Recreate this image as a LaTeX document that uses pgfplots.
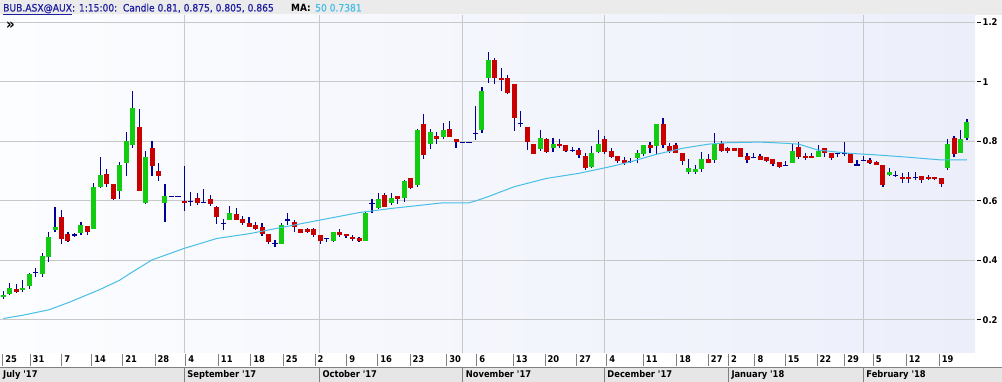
\documentclass[border=0pt]{standalone}
\usepackage{pgfplots}
\pgfplotsset{compat=1.18}
\usepackage{pgfplotstable}
\usepackage{fontspec}
\setmainfont{DejaVu Sans Condensed}
\newfontface\hdrface{DejaVu Sans Condensed}[FakeBold=0.6]

\definecolor{hdrgray}{RGB}{235,235,235}
\definecolor{hdrblue}{RGB}{30,30,160}
\definecolor{macyan}{RGB}{70,190,230}
\definecolor{gridgray}{RGB}{200,200,200}
\definecolor{cgreen}{RGB}{17,204,17}
\definecolor{cred}{RGB}{200,0,0}
\definecolor{wick}{RGB}{0,0,150}
\definecolor{bgA}{RGB}{252,253,255}
\definecolor{bgB}{RGB}{236,239,250}
\definecolor{rowgray}{RGB}{230,230,230}
\definecolor{sepgray}{RGB}{128,128,128}

\newcommand\lblfont{\bfseries\fontsize{9.3}{10}\selectfont}
\newcommand\hdrfont{\hdrface\fontsize{10.2}{12}\selectfont}

% t: 1 = up (green), -1 = down (red), 0 = doji / flat
\pgfplotstableread{
i o h l c t
0 0.275 0.296 0.270 0.283 1
1 0.285 0.322 0.283 0.305 1
2 0.304 0.319 0.291 0.293 -1
3 0.300 0.332 0.294 0.307 1
4 0.314 0.358 0.303 0.352 1
5 0.358 0.373 0.345 0.358 0
6 0.354 0.423 0.345 0.414 1
7 0.412 0.496 0.395 0.478 1
8 0.503 0.578 0.496 0.510 1
9 0.545 0.569 0.453 0.472 -1
10 0.487 0.496 0.462 0.465 -1
11 0.485 0.492 0.477 0.485 0
12 0.492 0.527 0.485 0.517 1
13 0.515 0.515 0.485 0.495 -1
14 0.506 0.658 0.506 0.645 1
15 0.645 0.746 0.642 0.686 1
16 0.689 0.705 0.647 0.657 -1
17 0.656 0.656 0.602 0.606 -1
18 0.634 0.730 0.606 0.719 1
19 0.726 0.830 0.684 0.800 1
20 0.788 0.969 0.778 0.912 1
21 0.848 0.907 0.634 0.634 -1
22 0.593 0.767 0.588 0.747 1
23 0.777 0.801 0.684 0.718 -1
24 0.700 0.726 0.667 0.684 -1
25 0.593 0.655 0.527 0.615 1
26 0.615 0.615 0.615 0.615 0
27 0.615 0.615 0.615 0.615 0
28 0.599 0.715 0.566 0.593 -1
29 0.597 0.628 0.583 0.597 0
30 0.609 0.625 0.586 0.593 -1
31 0.595 0.639 0.595 0.595 0
32 0.606 0.618 0.582 0.588 -1
33 0.579 0.583 0.522 0.544 -1
34 0.524 0.537 0.503 0.524 0
35 0.536 0.583 0.536 0.557 1
36 0.554 0.574 0.534 0.534 -1
37 0.537 0.549 0.518 0.524 -1
38 0.525 0.544 0.510 0.513 -1
39 0.517 0.528 0.503 0.506 -1
40 0.513 0.524 0.481 0.487 -1
41 0.487 0.487 0.454 0.461 -1
42 0.457 0.468 0.445 0.457 0
43 0.456 0.524 0.456 0.517 1
44 0.535 0.557 0.518 0.535 0
45 0.528 0.535 0.496 0.513 -1
46 0.504 0.504 0.493 0.493 -1
47 0.505 0.509 0.493 0.495 -1
48 0.505 0.509 0.477 0.484 -1
49 0.484 0.484 0.456 0.466 -1
50 0.474 0.474 0.462 0.474 0
51 0.466 0.494 0.462 0.494 1
52 0.495 0.504 0.477 0.485 -1
53 0.487 0.487 0.474 0.481 -1
54 0.479 0.484 0.466 0.470 -1
55 0.475 0.477 0.462 0.466 -1
56 0.466 0.563 0.466 0.560 1
57 0.591 0.605 0.558 0.591 0
58 0.574 0.625 0.571 0.605 1
59 0.618 0.627 0.578 0.578 -1
60 0.593 0.625 0.586 0.608 1
61 0.616 0.616 0.588 0.607 -1
62 0.608 0.670 0.597 0.665 1
63 0.676 0.676 0.638 0.644 -1
64 0.653 0.840 0.647 0.838 1
65 0.857 0.892 0.739 0.754 -1
66 0.789 0.840 0.775 0.831 1
67 0.818 0.830 0.789 0.808 -1
68 0.814 0.860 0.809 0.838 1
69 0.841 0.868 0.815 0.815 -1
70 0.807 0.807 0.776 0.796 -1
71 0.796 0.796 0.796 0.796 0
72 0.796 0.796 0.796 0.796 0
73 0.826 0.918 0.804 0.826 0
74 0.838 0.983 0.827 0.969 1
75 1.011 1.101 0.995 1.073 1
76 1.073 1.079 0.991 1.011 -1
77 1.011 1.047 0.970 1.006 -1
78 1.011 1.023 0.959 0.961 -1
79 0.992 0.992 0.835 0.879 -1
80 0.860 0.902 0.849 0.860 0
81 0.847 0.847 0.770 0.798 -1
82 0.790 0.790 0.756 0.756 -1
83 0.774 0.838 0.768 0.810 1
84 0.807 0.810 0.759 0.765 -1
85 0.778 0.810 0.765 0.791 1
86 0.791 0.806 0.776 0.784 -1
87 0.786 0.786 0.765 0.768 -1
88 0.770 0.779 0.765 0.770 0
89 0.770 0.776 0.745 0.754 -1
90 0.750 0.759 0.703 0.709 -1
91 0.714 0.784 0.709 0.759 1
92 0.765 0.838 0.759 0.789 1
93 0.806 0.819 0.756 0.765 -1
94 0.767 0.776 0.742 0.748 -1
95 0.750 0.750 0.728 0.733 -1
96 0.737 0.746 0.719 0.728 -1
97 0.733 0.745 0.726 0.733 0
98 0.745 0.770 0.728 0.760 1
99 0.757 0.787 0.750 0.787 1
100 0.787 0.798 0.759 0.776 -1
101 0.785 0.858 0.754 0.858 1
102 0.858 0.877 0.776 0.787 -1
103 0.785 0.795 0.759 0.767 -1
104 0.787 0.795 0.759 0.759 -1
105 0.759 0.759 0.720 0.735 -1
106 0.698 0.739 0.690 0.709 1
107 0.698 0.720 0.690 0.706 1
108 0.705 0.765 0.698 0.740 1
109 0.740 0.756 0.728 0.728 -1
110 0.737 0.826 0.728 0.789 1
111 0.793 0.802 0.765 0.768 -1
112 0.776 0.782 0.759 0.768 -1
113 0.778 0.778 0.767 0.767 -1
114 0.776 0.778 0.748 0.748 -1
115 0.750 0.759 0.728 0.737 -1
116 0.746 0.759 0.742 0.746 0
117 0.750 0.756 0.737 0.737 -1
118 0.748 0.748 0.731 0.735 -1
119 0.739 0.739 0.717 0.723 -1
120 0.730 0.730 0.709 0.714 -1
121 0.719 0.733 0.717 0.719 0
122 0.726 0.789 0.726 0.767 1
123 0.779 0.796 0.739 0.748 -1
124 0.750 0.759 0.737 0.745 -1
125 0.750 0.759 0.745 0.745 -1
126 0.748 0.787 0.748 0.768 1
127 0.776 0.776 0.748 0.759 -1
128 0.759 0.759 0.737 0.745 -1
129 0.759 0.759 0.746 0.759 0
130 0.759 0.796 0.750 0.759 0
131 0.759 0.759 0.726 0.726 -1
132 0.720 0.737 0.720 0.720 0
133 0.735 0.750 0.735 0.735 0
134 0.737 0.742 0.723 0.726 -1
135 0.730 0.735 0.719 0.719 -1
136 0.719 0.719 0.647 0.653 -1
137 0.686 0.709 0.683 0.698 1
138 0.686 0.701 0.679 0.686 0
139 0.681 0.694 0.661 0.674 -1
140 0.681 0.698 0.661 0.674 -1
141 0.679 0.698 0.670 0.679 0
142 0.684 0.684 0.661 0.670 -1
143 0.681 0.686 0.670 0.674 -1
144 0.681 0.681 0.670 0.674 -1
145 0.675 0.675 0.647 0.655 -1
146 0.709 0.806 0.703 0.789 1
147 0.810 0.817 0.746 0.757 -1
148 0.759 0.838 0.759 0.806 1
149 0.810 0.875 0.805 0.865 1
}\candles

\begin{document}
\begin{tikzpicture}
\useasboundingbox (0,-29bp) rectangle (1002bp,353bp);
% header bar
\fill[hdrgray] (0,338bp) rectangle (1002bp,353bp);
% bottom rows
\fill[white] (0,-14bp) rectangle (1002bp,0);
\fill[rowgray] (0,-29bp) rectangle (1002bp,-14bp);
\draw[sepgray, line width=0.8bp] (0,-14bp) -- (1002bp,-14bp);

\begin{axis}[
  at={(0,0)}, anchor=south west,
  scale only axis, width=975bp, height=338bp,
  xmin=-0.51, xmax=150.24, ymin=0.0881, ymax=1.2242,
  axis line style={draw=none},
  axis background/.style={shade, left color=bgA, right color=bgB},
  clip=false,
  major tick length=0pt,
  ytick={0.2,0.4,0.6,0.8,1,1.2},
  yticklabels={0.2,0.4,0.6,0.8,1,1.2},
  ytick pos=right, yticklabel pos=right,
  ymajorgrids, major grid style={draw=gridgray, line width=1bp},
  y tick label style={font=\lblfont, anchor=west, inner sep=0pt, xshift=7.5bp},
  xtick={-0.1,4.13,9.03,13.67,18.46,23.45,28.2,33.24,38.25,43.29,48.19,53.09,57.89,62.88,68.55,73.19,78.85,83.75,88.65,93.29,98.95,104.1,109.0,112.1,116.2,120.9,125.8,130.1,134.5,139.6,144.7},
  xticklabels={25,31,7,14,21,28,4,11,18,25,2,9,16,23,30,6,13,20,27,4,11,18,27,2,8,15,22,29,5,12,19},
  xtick pos=bottom,
  x tick label style={font=\lblfont, anchor=base west, inner sep=0pt, xshift=2.5bp, yshift=-9.5bp},
  extra x ticks={27.98,48.86,71.03,92.92,132.96},
  extra x tick labels={},
  extra x tick style={grid=major},
]
% wicks
\addplot[draw=none, mark=none,
  error bars/.cd, y dir=both, y explicit, error mark=none,
  error bar style={draw=wick, line width=1.2bp}]
  table[x=i, y expr={(\thisrow{h}+\thisrow{l})/2}, y error expr={(\thisrow{h}-\thisrow{l})/2}] {\candles};
% up bodies
\addplot[draw=none, mark=none, restrict expr to domain={\thisrow{t}}{0.5:1.5},
  error bars/.cd, y dir=both, y explicit, error mark=none,
  error bar style={draw=cgreen, line width=5bp}]
  table[x=i, y expr={(\thisrow{o}+\thisrow{c})/2}, y error expr={abs(\thisrow{c}-\thisrow{o})/2}] {\candles};
% down bodies
\addplot[draw=none, mark=none, restrict expr to domain={\thisrow{t}}{-1.5:-0.5},
  error bars/.cd, y dir=both, y explicit, error mark=none,
  error bar style={draw=cred, line width=5bp}]
  table[x=i, y expr={(\thisrow{o}+\thisrow{c})/2}, y error expr={abs(\thisrow{c}-\thisrow{o})/2}] {\candles};
% doji / flat dashes
\addplot[draw=none, mark=none, restrict expr to domain={\thisrow{t}}{-0.5:0.5},
  error bars/.cd, x dir=both, x fixed=0.4, error mark=none,
  error bar style={draw=wick, line width=1.2bp}]
  table[x=i, y=c] {\candles};
% 50-period moving average
\addplot[color=macyan, line width=1bp] coordinates {
(0,0.204) (3,0.215) (7,0.233) (10,0.257) (15,0.302) (18,0.333) (20,0.361) (23,0.401) (28,0.440) (33,0.473) (38,0.489) (43,0.510) (49,0.535) (55,0.560) (60,0.574) (68,0.593) (72,0.593) (73,0.599) (75,0.614) (79,0.647) (84,0.675) (89,0.692) (94,0.715) (97,0.731) (101,0.756) (105,0.776) (109,0.790) (112,0.795) (117,0.797) (121,0.793) (123,0.790) (126,0.770) (131,0.759) (135,0.754) (140,0.746) (145,0.737) (149,0.737)
};
% y tick marks on the right
\pgfplotsinvokeforeach{0.2,0.4,0.6,0.8,1,1.2}{
  \draw[black, line width=0.8bp] ([xshift=1.5bp]axis cs:150.24,#1) -- ([xshift=6bp]axis cs:150.24,#1);
}
% day separators
\pgfplotsinvokeforeach{-0.1,4.13,9.03,13.67,18.46,23.45,28.2,33.24,38.25,43.29,48.19,53.09,57.89,62.88,68.55,73.19,78.85,83.75,88.65,93.29,98.95,104.1,109.0,112.1,116.2,120.9,125.8,130.1,134.5,139.6,144.7}{
  \draw[sepgray, line width=0.8bp] ([yshift=-1bp]axis cs:#1,0.0881) -- ([yshift=-13bp]axis cs:#1,0.0881);
}
% month separators
\pgfplotsinvokeforeach{27.98,48.86,71.03,92.92,112.1,132.96}{
  \draw[sepgray, line width=0.8bp] ([yshift=-14bp]axis cs:#1,0.0881) -- ([yshift=-29bp]axis cs:#1,0.0881);
}
\node[anchor=base west, inner sep=0pt, font=\lblfont] at ([xshift=3bp,yshift=-24.5bp]axis cs:-0.51,0.0881) {July \textquotesingle17};
\node[anchor=base west, inner sep=0pt, font=\lblfont] at ([xshift=3bp,yshift=-24.5bp]axis cs:27.98,0.0881) {September \textquotesingle17};
\node[anchor=base west, inner sep=0pt, font=\lblfont] at ([xshift=3bp,yshift=-24.5bp]axis cs:48.86,0.0881) {October \textquotesingle17};
\node[anchor=base west, inner sep=0pt, font=\lblfont] at ([xshift=3bp,yshift=-24.5bp]axis cs:71.03,0.0881) {November \textquotesingle17};
\node[anchor=base west, inner sep=0pt, font=\lblfont] at ([xshift=3bp,yshift=-24.5bp]axis cs:92.92,0.0881) {December \textquotesingle17};
\node[anchor=base west, inner sep=0pt, font=\lblfont] at ([xshift=3bp,yshift=-24.5bp]axis cs:112.1,0.0881) {January \textquotesingle18};
\node[anchor=base west, inner sep=0pt, font=\lblfont] at ([xshift=3bp,yshift=-24.5bp]axis cs:132.96,0.0881) {February \textquotesingle18};
\end{axis}

% header texts
\node[anchor=base west, inner sep=0pt, text=hdrblue, font=\hdrfont] at (3bp,341.5bp) {\underline{BUB.ASX@AUX}: 1:15:00:};
\node[anchor=base west, inner sep=0pt, text=hdrblue, font=\hdrfont] at (122.7bp,341.5bp) {Candle 0.81, 0.875, 0.805, 0.865};
\node[anchor=base west, inner sep=0pt, text=black, font=\bfseries\fontsize{10}{12}\selectfont] at (291bp,341.5bp) {MA:};
\node[anchor=base west, inner sep=0pt, text=macyan, font=\hdrfont] at (315bp,341.5bp) {50 0.7381};
\node[anchor=center, inner sep=0pt, font=\bfseries\fontsize{15}{16}\selectfont] at (10.5bp,327bp) {»};
\end{tikzpicture}
\end{document}
